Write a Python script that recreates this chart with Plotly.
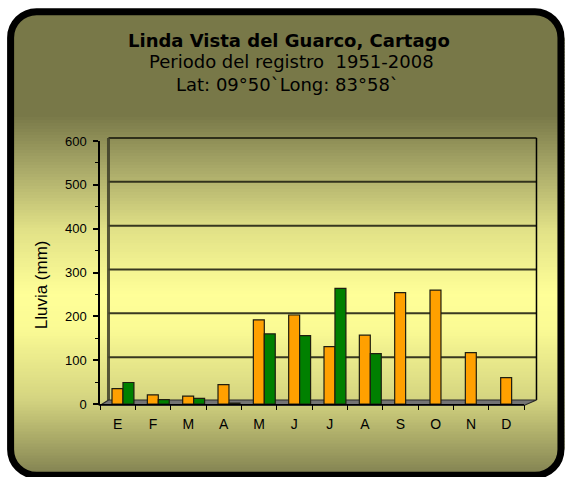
import plotly.graph_objects as go

# ---- data ----
month_labels = ["E", "F", "M", "A", "M", "J", "J", "A", "S", "O", "N", "D"]
promedio = [35, 21, 18, 44, 192, 203, 131, 157, 254, 260, 117, 60]
registro_2008 = [49, 10, 13, 2, 160, 156, 264, 115, None, None, None, None]
y_ticks = [0, 100, 200, 300, 400, 500, 600]

title_1 = "Linda Vista del Guarco, Cartago"
title_2 = "Periodo del registro  1951-2008"
title_3 = "Lat: 09°50`Long: 83°58`"
y_title = "Lluvia (mm)"

# ---- geometry helpers (pixels -> paper) ----
W, H = 565, 477
ML, MR, MT, MB = 100, 40.5, 141, 72.5
PW, PH = W - ML - MR, H - MT - MB


def px(x):
    return (x - ML) / PW


def py(y):
    return (H - MB - y) / PH


def P(x, y):
    return f"{px(x):.5f},{py(y):.5f}"


shapes = []

# gradient background strips
stops = [
    (0, (120, 120, 72)),
    (115, (120, 120, 72)),
    (170, (170, 170, 105)),
    (230, (225, 225, 135)),
    (295, (255, 255, 152)),
    (330, (250, 250, 148)),
    (400, (212, 212, 128)),
    (477, (128, 128, 80)),
]


def col_at(y):
    for (y0, c0), (y1, c1) in zip(stops[:-1], stops[1:]):
        if y0 <= y <= y1:
            t = (y - y0) / (y1 - y0) if y1 > y0 else 0
            return "rgb(%d,%d,%d)" % tuple(round(a + (b - a) * t) for a, b in zip(c0, c1))
    return "rgb(%d,%d,%d)" % stops[-1][1]


step = 3
y = 0
while y < H:
    shapes.append(dict(type="rect", xref="paper", yref="paper", layer="below",
                       x0=px(0), x1=px(W), y0=py(y), y1=py(min(y + step + 2, H + 2)),
                       fillcolor=col_at(y + step / 2), line=dict(width=0)))
    y += step

# rounded frame
bx0, by0, bx1, by1, r = 10.5, 11.5, 561.5, 476.0, 26
k = 0.5523 * r

masks = [
    f"M {P(bx0, by0 + r)} C {P(bx0, by0 + r - k)} {P(bx0 + r - k, by0)} {P(bx0 + r, by0)} L {P(bx0 + r, -5)} L {P(-5, -5)} L {P(-5, by0 + r)} Z",
    f"M {P(bx1 - r, by0)} C {P(bx1 - r + k, by0)} {P(bx1, by0 + r - k)} {P(bx1, by0 + r)} L {P(W + 5, by0 + r)} L {P(W + 5, -5)} L {P(bx1 - r, -5)} Z",
    f"M {P(bx1, by1 - r)} C {P(bx1, by1 - r + k)} {P(bx1 - r + k, by1)} {P(bx1 - r, by1)} L {P(bx1 - r, H + 5)} L {P(W + 5, H + 5)} L {P(W + 5, by1 - r)} Z",
    f"M {P(bx0 + r, by1)} C {P(bx0 + r - k, by1)} {P(bx0, by1 - r + k)} {P(bx0, by1 - r)} L {P(-5, by1 - r)} L {P(-5, H + 5)} L {P(bx0 + r, H + 5)} Z",
]
for m in masks:
    shapes.append(dict(type="path", xref="paper", yref="paper", layer="below",
                       path=m, fillcolor="white", line=dict(width=0)))
shapes.append(dict(type="rect", xref="paper", yref="paper", layer="below",
                   x0=px(-5), x1=px(bx0), y0=py(-5), y1=py(H + 5), fillcolor="white", line=dict(width=0)))
shapes.append(dict(type="rect", xref="paper", yref="paper", layer="below",
                   x0=px(-5), x1=px(W + 5), y0=py(by0), y1=py(-5), fillcolor="white", line=dict(width=0)))

frame = (f"M {P(bx0, by0 + r)} C {P(bx0, by0 + r - k)} {P(bx0 + r - k, by0)} {P(bx0 + r, by0)} "
         f"L {P(bx1 - r, by0)} C {P(bx1 - r + k, by0)} {P(bx1, by0 + r - k)} {P(bx1, by0 + r)} "
         f"L {P(bx1, by1 - r)} C {P(bx1, by1 - r + k)} {P(bx1 - r + k, by1)} {P(bx1 - r, by1)} "
         f"L {P(bx0 + r, by1)} C {P(bx0 + r - k, by1)} {P(bx0, by1 - r + k)} {P(bx0, by1 - r)} Z")
shapes.append(dict(type="path", xref="paper", yref="paper", layer="below",
                   path=frame, line=dict(color="black", width=7)))

# 3D-style back wall gridlines
dx_back, dy_back = 8.5, 3.0
for v in y_ticks[1:]:
    yy = v / 600 + dy_back / PH
    shapes.append(dict(type="line", xref="paper", yref="paper", layer="below",
                       x0=px(ML + dx_back), x1=px(ML + PW + 12.5), y0=yy, y1=yy,
                       line=dict(color="rgba(35,35,20,0.9)", width=2)))
shapes.append(dict(type="line", xref="paper", yref="paper", layer="below",
                   x0=px(ML + dx_back), x1=px(ML + dx_back), y0=py(400.5), y1=1 + 3 / PH,
                   line=dict(color="rgba(60,60,40,0.85)", width=3)))
shapes.append(dict(type="line", xref="paper", yref="paper", layer="below",
                   x0=px(ML + PW + 12.5), x1=px(ML + PW + 12.5), y0=py(400.5), y1=1 + 3 / PH,
                   line=dict(color="black", width=1.5)))
floor = f"M {P(ML, 406)} L {P(ML + PW, 406)} L {P(ML + PW + 12.5, 400.5)} L {P(ML + dx_back, 400.5)} Z"
shapes.append(dict(type="path", xref="paper", yref="paper", layer="below",
                   path=floor, fillcolor="#747474", line=dict(color="#2a2a2a", width=1.2)))

fig = go.Figure()
xs = list(range(len(month_labels)))
fig.add_trace(go.Bar(x=xs, y=promedio, name="Promedio", offset=-0.16, width=0.31,
                     marker=dict(color="#ffa000", line=dict(color="#1e1e10", width=1.2)),
                     showlegend=False))
fig.add_trace(go.Bar(x=xs, y=registro_2008, name="2008", offset=0.15, width=0.31,
                     marker=dict(color="#008000", line=dict(color="#1e1e10", width=1.2)),
                     showlegend=False))

tick_font = dict(family="Liberation Sans, Arial", size=13, color="black")
title_font = dict(family="DejaVu Sans, Verdana", size=18, color="black")
fig.update_layout(
    width=W, height=H,
    margin=dict(l=ML, r=MR, t=MT, b=MB, pad=0),
    paper_bgcolor="white", plot_bgcolor="rgba(0,0,0,0)",
    barmode="overlay",
    shapes=shapes,
    xaxis=dict(range=[-0.5, 11.5], tickmode="array", tickvals=xs, ticktext=month_labels,
               showgrid=False, zeroline=False, showline=True, linecolor="black", linewidth=1.2,
               ticks="", tickfont=dict(family="Liberation Sans, Arial", size=14, color="black"),
               ticklabelstandoff=7,
               minor=dict(tickmode="linear", tick0=-0.5, dtick=1, ticks="outside",
                          ticklen=5, tickcolor="black", tickwidth=1.2, showgrid=False)),
    yaxis=dict(range=[0, 600], tickmode="array", tickvals=y_ticks,
               showgrid=False, zeroline=False, showline=True, linecolor="black", linewidth=1.5,
               ticks="outside", ticklen=5, tickwidth=1.5, tickcolor="black",
               tickfont=tick_font, ticklabelstandoff=4,
               minor=dict(tickmode="linear", tick0=0, dtick=50, ticks="outside",
                          ticklen=3, tickcolor="black", tickwidth=1.2, showgrid=False)),
    annotations=[
        dict(text=f"<b>{title_1}</b>", x=px(289), y=py(40), xref="paper", yref="paper",
             showarrow=False, font=title_font, xanchor="center", yanchor="middle"),
        dict(text=title_2, x=px(292), y=py(61), xref="paper", yref="paper",
             showarrow=False, font=title_font, xanchor="center", yanchor="middle"),
        dict(text=title_3, x=px(288), y=py(84), xref="paper", yref="paper",
             showarrow=False, font=title_font, xanchor="center", yanchor="middle"),
        dict(text=y_title, x=px(41.5), y=py(285), xref="paper", yref="paper", textangle=-90,
             showarrow=False, font=dict(family="Liberation Sans, Arial", size=17, color="black"),
             xanchor="center", yanchor="middle"),
    ],
)

fig.write_html("out.html", config={"displayModeBar": False},
               post_script="document.body.style.margin='0';document.body.style.overflow='hidden';")
